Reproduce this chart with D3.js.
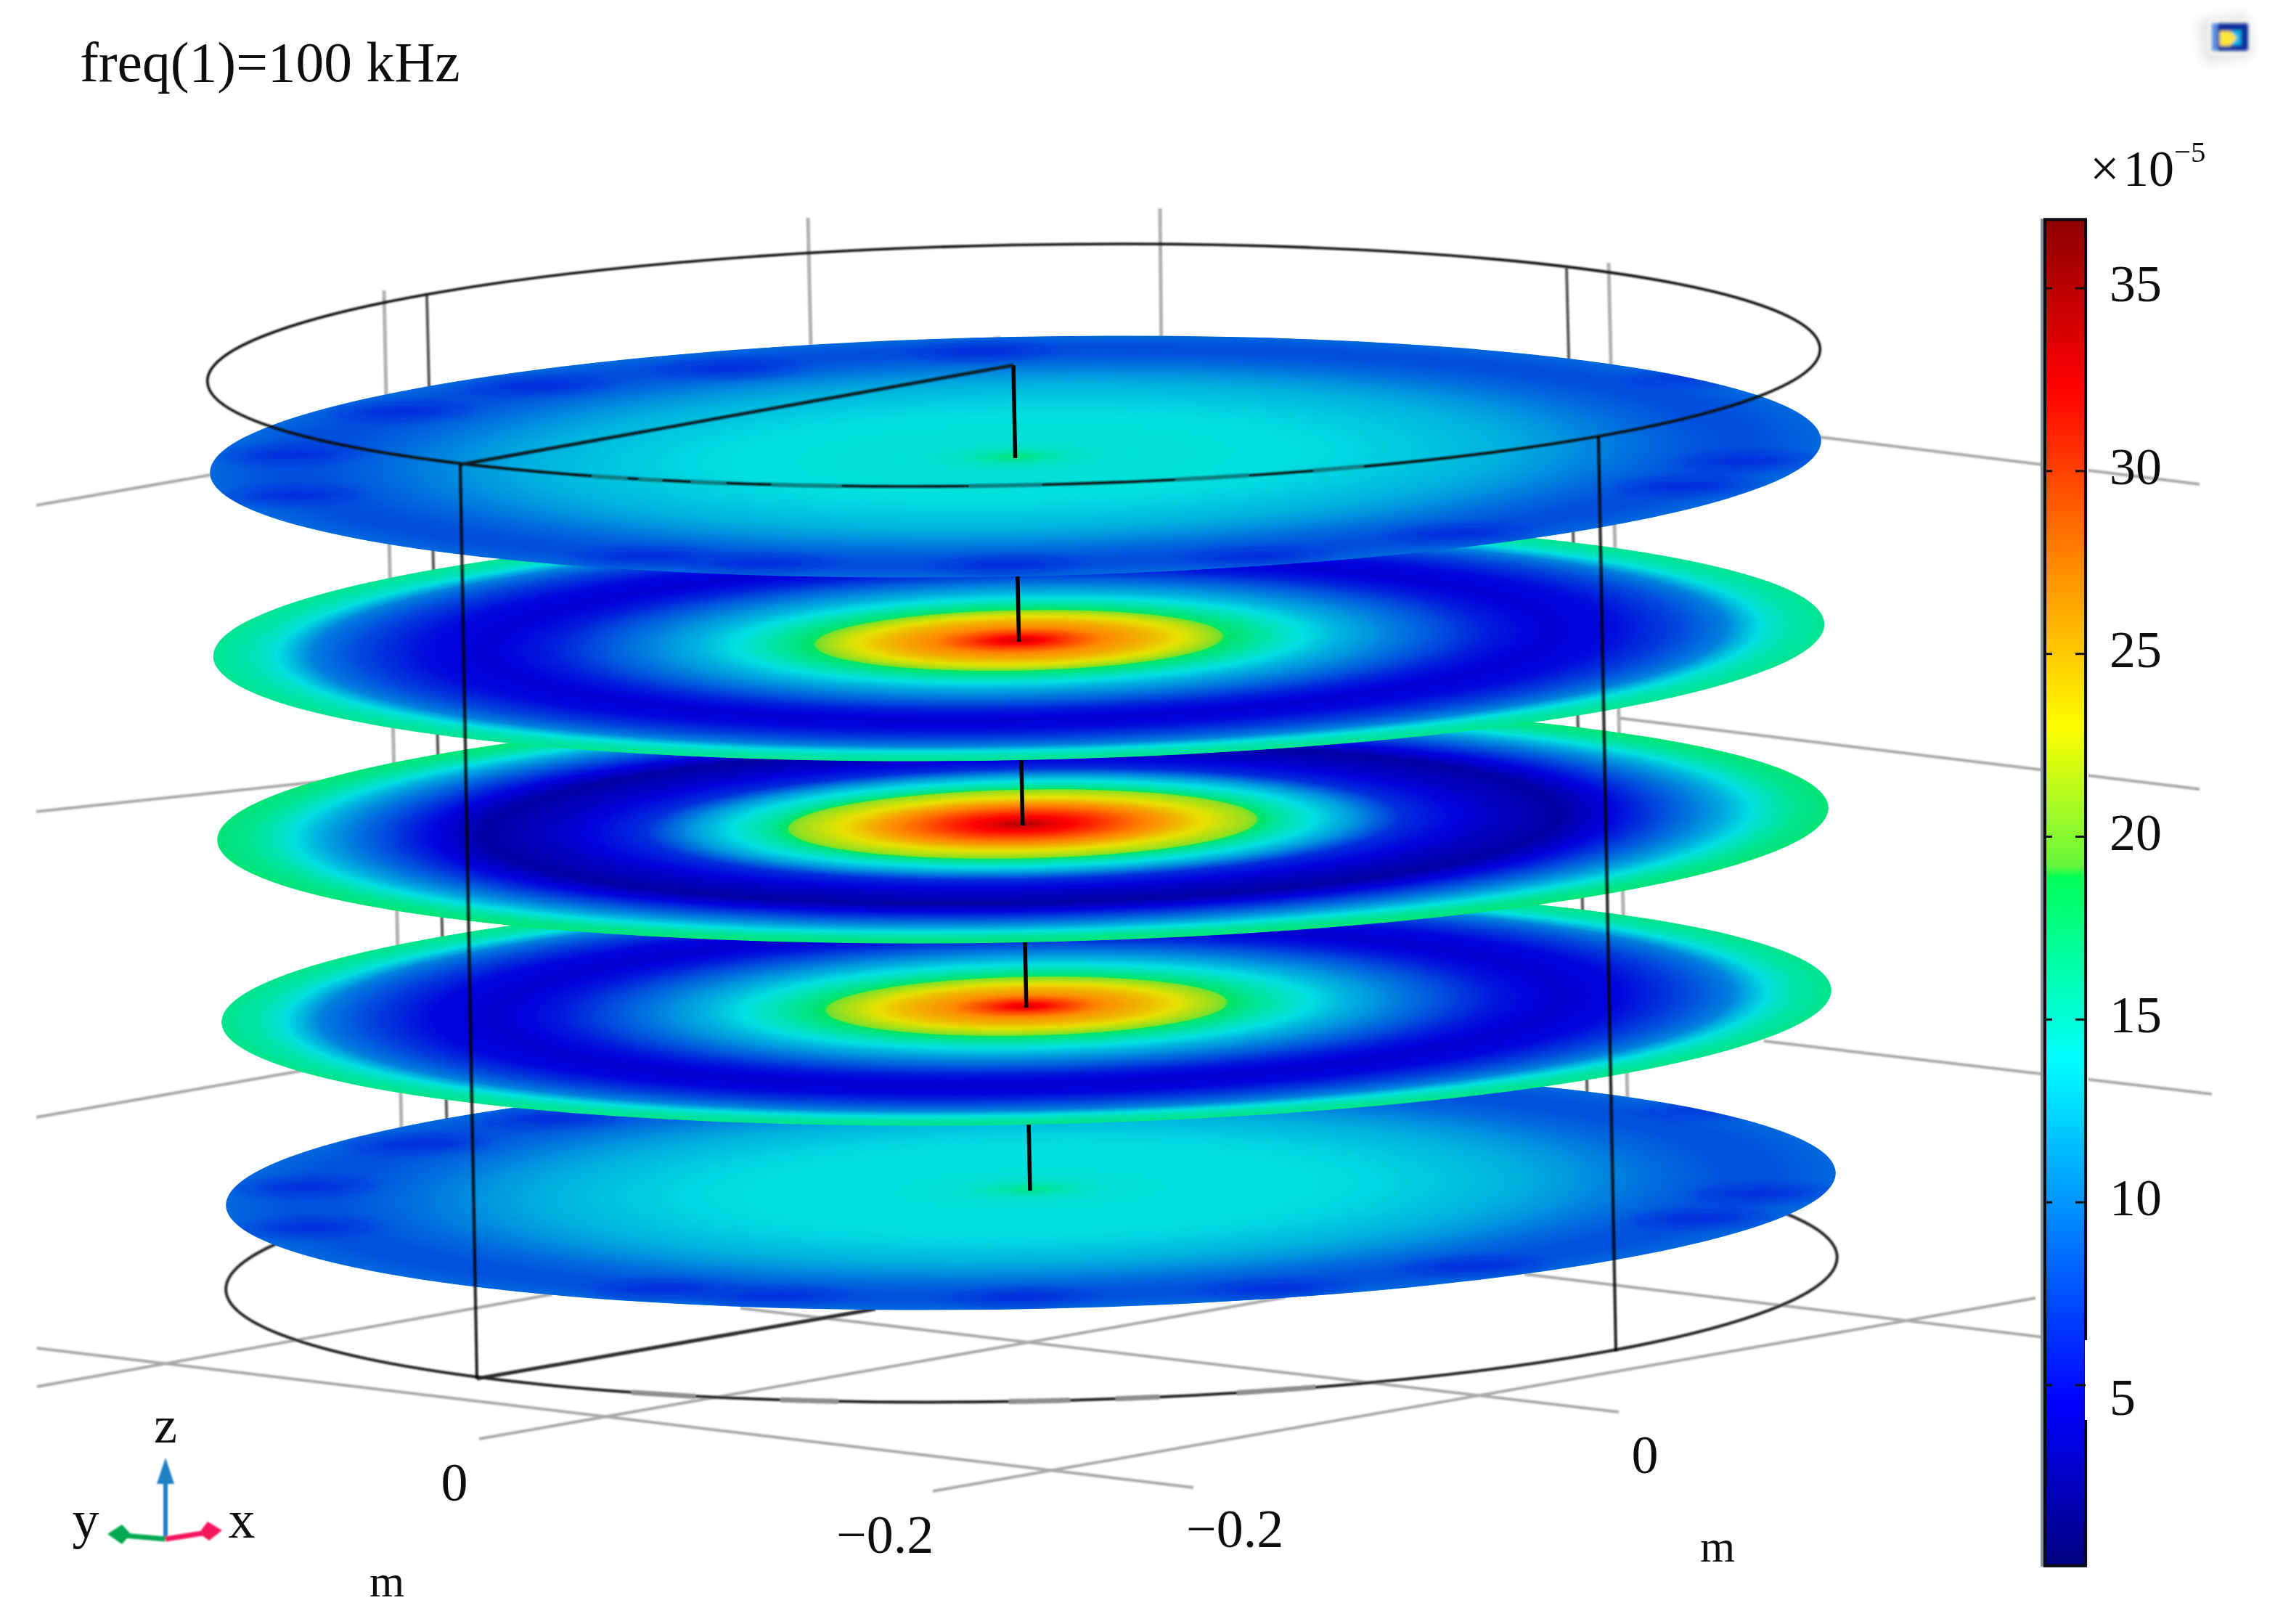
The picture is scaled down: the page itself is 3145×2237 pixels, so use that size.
<!DOCTYPE html>
<html>
<head>
<meta charset="utf-8">
<script src="https://cdn.jsdelivr.net/npm/d3@7/dist/d3.min.js"></script>
<style>
html,body{margin:0;padding:0;background:#fff}
svg{display:block}
text{font-family:"Liberation Serif",serif;fill:#111}
</style>
</head>
<body>
<svg id="chart" width="3145" height="2237" viewBox="0 0 3145 2237"></svg>
<script>
// ---------- data (values in units of 1e-5) ----------
const titleText = "freq(1)=100 kHz";
const colorbarTicks = [5, 10, 15, 20, 25, 30, 35];
const colorbarDomain = [0.04, 36.9];
const colormapValues = [0.04, 4.5, 13.9, 18.9, 19.2, 23, 27.8, 32.3, 36.9];
const colormapColors = ["#000080", "#0000ff", "#00ffff", "#00ff55", "#66f73c", "#ffff00", "#ff8000", "#ff0000", "#8c0000"];
const discShadeColors = ["#000078", "#0000dc", "#00e0e0", "#00e660", "#70e030", "#e6e000", "#ff8000", "#ff0000", "#960000"];

const disc1Radius = [0, 0.03, 0.07, 0.12, 0.2, 0.32, 0.46, 0.6, 0.69, 0.78, 0.86, 0.92, 1];
const disc1Value  = [18, 16.5, 15, 14.4, 14.2, 14, 13.2, 12, 10.6, 9, 7.9, 7.8, 8.9];
const disc2Radius = [0, 0.048, 0.106, 0.164, 0.228, 0.24, 0.26, 0.3, 0.35, 0.4, 0.49, 0.58, 0.66, 0.74, 0.82, 0.88, 0.9, 0.93, 0.96, 1];
const disc2Value  = [34.5, 31, 27.5, 25, 21.5, 20.5, 18.5, 16.5, 14, 12, 9, 5.8, 4, 5, 7.5, 10, 12, 14.5, 16, 17];
const disc3Radius = [0, 0.036, 0.108, 0.166, 0.217, 0.28, 0.31, 0.36, 0.41, 0.47, 0.578, 0.67, 0.74, 0.81, 0.86, 0.9, 0.93, 0.96, 1];
const disc3Value  = [36.2, 33.5, 30, 27, 23.5, 20.5, 17, 14, 11, 6.5, 3.5, 2, 5, 8.5, 11, 13.5, 15.5, 17, 18];
const disc4Radius = [0, 0.045, 0.1, 0.16, 0.225, 0.24, 0.26, 0.3, 0.35, 0.4, 0.49, 0.58, 0.66, 0.74, 0.82, 0.88, 0.9, 0.93, 0.96, 1];
const disc4Value  = [34, 30.5, 27, 24.5, 21, 20, 18.2, 16.2, 14, 12, 8.8, 5.6, 3.8, 4.8, 7.5, 10, 12, 14.5, 16.2, 17.2];
const disc5Radius = [0, 0.03, 0.07, 0.12, 0.2, 0.32, 0.46, 0.6, 0.69, 0.78, 0.86, 0.92, 1];
const disc5Value  = [17.6, 16.2, 14.8, 14.2, 14, 14, 13.3, 12, 10.6, 9, 8, 7.9, 8.9];
const edgeDipU = [-0.76, -0.59, -0.35, -0.04, -0.9, -0.9, -0.46, -0.32, -0.015, 0.91, 0.83, 0.85, 0.3, 0.55];
const edgeDipV = [-0.48, -0.67, -0.78, -0.88, -0.14, 0.2, 0.77, 0.85, 0.9, 0.16, 0.36, -0.55, 0.88, 0.72];

// ---------- layout ----------
const svg = d3.select("#chart");
const defs = svg.append("defs");
const tilt = -1.16;
const discs = [
  {id:1, cx:1399, cy:629, rx:1110, ry:165, r:disc1Radius, v:disc1Value, dips:true,  axisTop:503},
  {id:2, cx:1403.5, cy:882, rx:1110, ry:165, r:disc2Radius, v:disc2Value, dips:false, axisTop:640},
  {id:3, cx:1409, cy:1135, rx:1110, ry:163, r:disc3Radius, v:disc3Value, dips:false, axisTop:890},
  {id:4, cx:1414, cy:1386, rx:1109, ry:163, r:disc4Radius, v:disc4Value, dips:false, axisTop:1140},
  {id:5, cx:1420, cy:1638, rx:1109, ry:165, r:disc5Radius, v:disc5Value, dips:true,  axisTop:1390}
];
const topRing = {cx:1396.5, cy:503, rx:1111, ry:165.5};
const baseRing = {cx:1421, cy:1754, rx:1110, ry:176};
const axisLine = d3.scaleLinear().domain([503, 1640]).range([1396, 1419]);

const color = d3.scaleLinear().domain(colormapValues).range(colormapColors)
  .interpolate(d3.interpolateRgb).clamp(true);
const discColor = d3.scaleLinear().domain(colormapValues).range(discShadeColors)
  .interpolate(d3.interpolateRgb).clamp(true);

defs.append("filter").attr("id","soft").attr("x","-2%").attr("y","-2%").attr("width","104%").attr("height","104%")
  .append("feGaussianBlur").attr("stdDeviation",0.9);
defs.append("filter").attr("id","softText").attr("x","-10%").attr("y","-10%").attr("width","120%").attr("height","120%")
  .append("feGaussianBlur").attr("stdDeviation",0.6);
defs.append("filter").attr("id","dipBlur").attr("x","-30%").attr("y","-30%").attr("width","160%").attr("height","160%")
  .append("feGaussianBlur").attr("stdDeviation","24 6");
defs.append("filter").attr("id","iconBlur").attr("x","-30%").attr("y","-30%").attr("width","160%").attr("height","160%")
  .append("feGaussianBlur").attr("stdDeviation",2.2);
defs.append("filter").attr("id","haloBlur").attr("x","-30%").attr("y","-30%").attr("width","160%").attr("height","160%")
  .append("feGaussianBlur").attr("stdDeviation",7);

// ---------- wireframe behind the discs ----------
const gridLines = [
  [50,696,1378,465],[2507,602,3030,667],
  [50,1118,1400,975],[2229,989,3030,1087],
  [50,1539,1300,1320],[2430,1434,3047,1507],
  [2100,1755,2815,1842],[1285,2054,2804,1788],
  [1020,1802,2230,1945],[660,1982,1770,1787],
  [51,1857,1644,2049],[51,1910,760,1783]
];
const greyVerticals = [[529,400,555,1650],[2216,362,2245,1650],[1113,300,1118,520],[1598,287,1600,500]];
const darkVerticals = [[588,406,618,1650],[2158,369,2190,1650]];

const back = svg.append("g").attr("filter","url(#soft)");
const segs = (g, arr, col, w) => g.selectAll(null).data(arr).join("line")
  .attr("x1",d=>d[0]).attr("y1",d=>d[1]).attr("x2",d=>d[2]).attr("y2",d=>d[3])
  .attr("stroke",col).attr("stroke-width",w);
segs(back, gridLines, "#a8a8a8", 4);
segs(back, greyVerticals, "#b0b0b0", 5);
segs(back, darkVerticals, "#555", 4);
segs(back, [[657,1899,1206,1803]], "#2c2c2c", 5);

const ringPath = e => `translate(${e.cx},${e.cy}) rotate(${tilt})`;
const frontY = (e,x) => { const u=x-e.cx; return e.cy + u*Math.tan(tilt*Math.PI/180) + e.ry*Math.sqrt(Math.max(0,1-(u/e.rx)*(u/e.rx))); };
const arcPath = (e,a,b) => d3.line()(d3.range(a,b+1,4).map(x=>[x,frontY(e,x)]));

back.append("ellipse").attr("transform",ringPath(baseRing))
  .attr("rx",baseRing.rx).attr("ry",baseRing.ry).attr("fill","none").attr("stroke","#222").attr("stroke-width",4);
back.selectAll(null).data([[1075,1158],[1390,1477],[1537,1600],[1704,1815],[870,960]]).join("path")
  .attr("d",d=>arcPath(baseRing,d[0],d[1])).attr("fill","none").attr("stroke","#8e8e8e").attr("stroke-width",7);

// ---------- discs, bottom one first ----------
const ringSteps = d3.range(440, -1, -1).map(i => i/440);
discs.slice().reverse().forEach((d,idx) => {
  const profile = d3.scaleLinear().domain(d.r).range(d.v);
  const g = svg.append("g").attr("transform",`translate(${d.cx},${d.cy}) rotate(${tilt})`);
  defs.append("clipPath").attr("id",`clip${d.id}`).append("ellipse").attr("rx",d.rx).attr("ry",d.ry);
  g.selectAll("ellipse").data(ringSteps).join("ellipse")
    .attr("rx",r=>Math.max(0.4,r*d.rx)).attr("ry",r=>Math.max(0.1,r*d.ry))
    .attr("fill",r=>discColor(profile(r)));
  if (d.dips) {
    g.append("g").attr("clip-path",`url(#clip${d.id})`)
      .append("g").attr("filter","url(#dipBlur)")
      .selectAll("ellipse").data(d3.range(edgeDipU.length)).join("ellipse")
      .attr("cx",i=>edgeDipU[i]*d.rx).attr("cy",i=>edgeDipV[i]*d.ry)
      .attr("rx",85).attr("ry",11)
      .attr("fill",discColor(5.5)).attr("fill-opacity",0.55);
  }
  // centre axis, the part between this disc and the one above
  svg.append("line")
    .attr("x1",axisLine(d.cy)).attr("y1",d.cy+2).attr("x2",axisLine(d.axisTop)).attr("y2",d.axisTop)
    .attr("stroke","#050505").attr("stroke-width",5.5);
});

// ---------- wireframe in front ----------
const front = svg.append("g").attr("filter","url(#soft)");
front.append("ellipse").attr("transform",ringPath(topRing))
  .attr("rx",topRing.rx).attr("ry",topRing.ry).attr("fill","none").attr("stroke","#111").attr("stroke-width",3.6);
front.selectAll(null).data([[816,864],[880,912],[952,1000],[1063,1159],[1335,1438],[1620,1720],[1810,1880]]).join("path")
  .attr("d",d=>arcPath(topRing,d[0],d[1])).attr("fill","none").attr("stroke","#0a7c80").attr("stroke-width",5.5);
segs(front, [[634,640,1396,503]], "#0a1a20", 4.4);
segs(front, [[634,640,657,1899],[2202,601,2226,1861]], "#000", 4.2).attr("stroke-opacity",0.85);

// ---------- colour bar ----------
const barY = d3.scaleLinear().domain([5,35]).range([1908,397]);
const grad = defs.append("linearGradient").attr("id","jet").attr("x1",0).attr("x2",0).attr("y1",1).attr("y2",0);
const off = d3.scaleLinear().domain(colorbarDomain).range([0,1]);
grad.selectAll("stop").data(colormapValues).join("stop")
  .attr("offset",v=>off(v)).attr("stop-color",v=>color(v));

const bar = svg.append("g");
bar.append("rect").attr("x",2811).attr("y",302).attr("width",66).attr("height",1858).attr("fill","#e8ecec");
bar.append("rect").attr("x",2811).attr("y",barY(colorbarDomain[1])).attr("width",6)
  .attr("height",barY(colorbarDomain[0])-barY(colorbarDomain[1])).attr("fill","#888e92");
bar.append("rect").attr("x",2817).attr("y",barY(colorbarDomain[1])+1).attr("width",56)
  .attr("height",barY(colorbarDomain[0])-barY(colorbarDomain[1])-2)
  .attr("fill","url(#jet)").attr("stroke","#0a0a14").attr("stroke-width",4);
bar.append("rect").attr("x",2872).attr("y",1846).attr("width",8).attr("height",110).attr("fill","#fff");
bar.selectAll(".tl").data(colorbarTicks).join("line").attr("x1",2817).attr("x2",2827)
  .attr("y1",barY).attr("y2",barY).attr("stroke","#111").attr("stroke-width",3);
bar.selectAll(".tr").data(colorbarTicks).join("line").attr("x1",2859).attr("x2",2873)
  .attr("y1",barY).attr("y2",barY).attr("stroke","#111").attr("stroke-width",3);
bar.selectAll("text").data(colorbarTicks).join("text")
  .attr("x",2906).attr("y",v=>barY(v)+(v===5?41:18))
  .attr("font-size",72).attr("filter","url(#softText)").text(d3.format("d"));

const txt = (x,y,s,size,anchor) => svg.append("text").attr("x",x).attr("y",y).attr("font-size",size)
  .attr("filter","url(#softText)")
  .attr("text-anchor",anchor||"start").text(s);
txt(2879,256,"×",72);
txt(2925,256,"10",70);
txt(2995,223,"−5",41);

// ---------- labels ----------
txt(110,112,titleText,77.5);
txt(626,2067,"0",74,"middle");
txt(1152,2139,"−0.2",74);
txt(1634,2131,"−0.2",74);
txt(2266,2029,"0",74,"middle");
txt(533,2199,"m",62,"middle");
txt(2366,2151,"m",62,"middle");

// ---------- orientation triad ----------
const triad = svg.append("g").attr("filter","url(#soft)");
const org = [228,2120];
triad.append("line").attr("x1",org[0]).attr("y1",org[1]).attr("x2",org[0]).attr("y2",2040)
  .attr("stroke","#1a80c4").attr("stroke-width",6);
triad.append("path").attr("d","M228,2008 L240,2044 L216,2044 Z").attr("fill","#1a80c4");
triad.append("line").attr("x1",org[0]).attr("y1",org[1]).attr("x2",170).attr("y2",2115)
  .attr("stroke","#00a850").attr("stroke-width",7);
triad.append("path").attr("d","M148,2113 L168,2100 L180,2113 L168,2127 Z").attr("fill","#00a850");
triad.append("line").attr("x1",org[0]).attr("y1",org[1]).attr("x2",285).attr("y2",2111)
  .attr("stroke","#f2125c").attr("stroke-width",7);
triad.append("path").attr("d","M306,2108 L286,2096 L274,2112 L288,2122 Z").attr("fill","#f2125c");
txt(228,1987,"z",72,"middle");
txt(118,2118,"y",74,"middle");
txt(333,2118,"x",74,"middle");

// ---------- logo mark, top right ----------
const logo = svg.append("g");
logo.append("rect").attr("x",3030).attr("y",22).attr("width",72).attr("height",62).attr("rx",10)
  .attr("fill","#e6e6e6").attr("filter","url(#haloBlur)").attr("transform","rotate(-8 3066 53)");
logo.append("rect").attr("x",3042).attr("y",27).attr("width",58).attr("height",48).attr("rx",6).attr("fill","#fbf8ee").attr("filter","url(#iconBlur)");
const icon = logo.append("g").attr("filter","url(#iconBlur)");
icon.append("rect").attr("x",3047).attr("y",32).attr("width",50).attr("height",38).attr("rx",3).attr("fill","#0d2f9c");
icon.append("rect").attr("x",3047).attr("y",32).attr("width",8).attr("height",38).attr("fill","#5a8fe0");
icon.append("rect").attr("x",3074).attr("y",42).attr("width",13).attr("height",20).attr("fill","#10b4ee");
icon.append("path").attr("d","M3058,43 L3072,43 L3082,52 L3072,63 L3058,63 Z").attr("fill","#ffe63a");
</script>
</body>
</html>
